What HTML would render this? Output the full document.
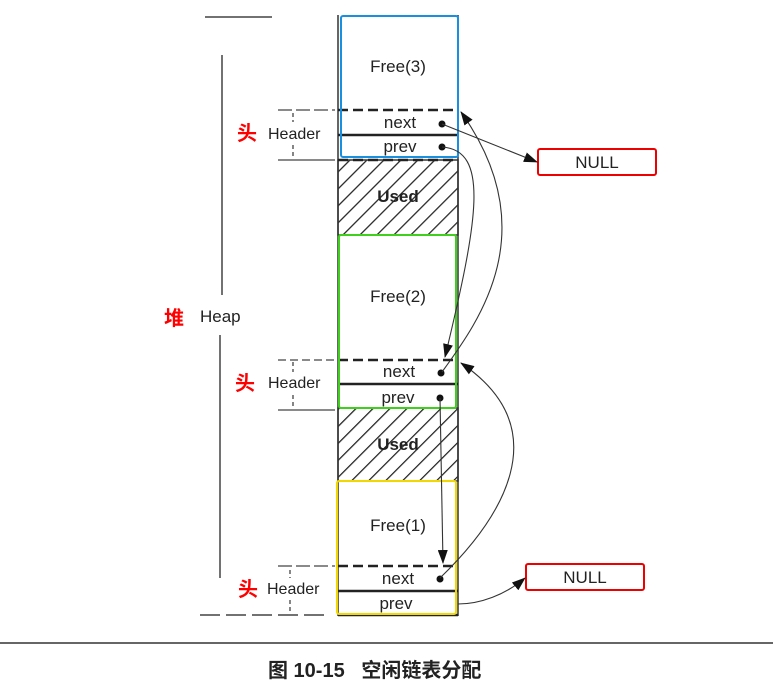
<!DOCTYPE html>
<html><head><meta charset="utf-8"><style>
html,body{margin:0;padding:0;background:#fff;}
svg{display:block;}
text{font-family:"Liberation Sans","Noto Sans CJK SC",sans-serif;fill:#222;}
</style></head><body>
<svg width="773" height="690" viewBox="0 0 773 690" xmlns="http://www.w3.org/2000/svg">
<defs>
<pattern id="h" patternUnits="userSpaceOnUse" width="12" height="12" patternTransform="rotate(45)">
<rect width="12" height="12" fill="#fff"/><line x1="0" y1="0" x2="0" y2="12" stroke="#222" stroke-width="2.5"/>
</pattern>
<marker id="a" markerWidth="14" markerHeight="10" refX="13" refY="5" orient="auto" markerUnits="userSpaceOnUse"><path d="M0,0 L14,5 L0,10 z" fill="#111"/></marker>
</defs>
<line x1="205" y1="17" x2="272" y2="17" stroke="#444" stroke-width="1.5"/>
<line x1="222" y1="55" x2="222" y2="295" stroke="#444" stroke-width="1.5"/>
<line x1="220" y1="335" x2="220" y2="578" stroke="#444" stroke-width="1.5"/>
<line x1="200" y1="615" x2="325" y2="615" stroke="#444" stroke-width="1.5" stroke-dasharray="20 6"/>
<text x="164" y="325" font-size="20" font-weight="bold" style="fill:#f00">堆</text>
<text x="200" y="322" font-size="17">Heap</text>
<g stroke="#444" stroke-width="1.3" fill="none">
<line x1="278" y1="110" x2="335" y2="110" stroke-dasharray="14 4"/><line x1="278" y1="160" x2="335" y2="160"/>
<line x1="293" y1="113" x2="293" y2="122" stroke-dasharray="4 3"/><line x1="293" y1="145" x2="293" y2="158" stroke-dasharray="4 3"/>
<line x1="278" y1="360" x2="335" y2="360" stroke-dasharray="8 4"/><line x1="278" y1="410" x2="335" y2="410"/>
<line x1="293" y1="362" x2="293" y2="372" stroke-dasharray="4 3"/><line x1="293" y1="395" x2="293" y2="408" stroke-dasharray="4 3"/>
<line x1="278" y1="566" x2="335" y2="566" stroke-dasharray="14 4"/>
<line x1="290" y1="570" x2="290" y2="578" stroke-dasharray="4 3"/><line x1="290" y1="600" x2="290" y2="612" stroke-dasharray="4 3"/>
</g>
<text x="237" y="140" font-size="20" font-weight="bold" style="fill:#f00">头</text>
<text x="268" y="139" font-size="16">Header</text>
<text x="235" y="390" font-size="20" font-weight="bold" style="fill:#f00">头</text>
<text x="268" y="388" font-size="16">Header</text>
<text x="238" y="596" font-size="20" font-weight="bold" style="fill:#f00">头</text>
<text x="267" y="594" font-size="16">Header</text>
<rect x="338" y="160" width="120" height="75" fill="url(#h)" stroke="#333" stroke-width="1.5"/>
<rect x="338" y="408" width="120" height="73" fill="url(#h)" stroke="#333" stroke-width="1.5"/>
<text x="398" y="202" font-size="17" text-anchor="middle" font-weight="bold">Used</text>
<text x="398" y="450" font-size="17" text-anchor="middle" font-weight="bold">Used</text>
<line x1="338" y1="15" x2="338" y2="616" stroke="#333" stroke-width="1.5"/>
<line x1="458" y1="15" x2="458" y2="616" stroke="#333" stroke-width="1.5"/>
<g stroke="#222" stroke-width="2.5" fill="none">
<line x1="338" y1="110" x2="458" y2="110" stroke-dasharray="10 5"/>
<line x1="338" y1="135" x2="458" y2="135"/>
<line x1="338" y1="160" x2="458" y2="160" stroke-dasharray="10 5"/>
<line x1="338" y1="360" x2="458" y2="360" stroke-dasharray="10 5"/>
<line x1="338" y1="384" x2="458" y2="384"/>
<line x1="338" y1="566" x2="458" y2="566" stroke-dasharray="10 5"/>
<line x1="338" y1="591" x2="458" y2="591"/>
<line x1="338" y1="615" x2="458" y2="615"/>
</g>
<rect x="341" y="16" width="117" height="141" fill="none" stroke="#1a8fe0" stroke-width="2" rx="2"/>
<rect x="339" y="235" width="117" height="173" fill="none" stroke="#3ed01a" stroke-width="2" rx="2"/>
<rect x="337" y="481" width="119" height="133" fill="none" stroke="#f2d800" stroke-width="2" rx="2"/>
<text x="398" y="72" font-size="17" text-anchor="middle">Free(3)</text>
<text x="398" y="302" font-size="17" text-anchor="middle">Free(2)</text>
<text x="398" y="531" font-size="17" text-anchor="middle">Free(1)</text>
<g font-size="17" text-anchor="middle">
<text x="400" y="128">next</text><text x="400" y="152">prev</text>
<text x="399" y="377">next</text><text x="398" y="403">prev</text>
<text x="398" y="584">next</text><text x="396" y="609">prev</text>
</g>
<g fill="#111"><circle cx="442" cy="124" r="3.5"/><circle cx="442" cy="147" r="3.5"/><circle cx="441" cy="373" r="3.5"/><circle cx="440" cy="398" r="3.5"/><circle cx="440" cy="579" r="3.5"/></g>
<rect x="538" y="149" width="118" height="26" fill="#fff" stroke="#e00" stroke-width="2" rx="2"/>
<text x="597" y="168" font-size="17" text-anchor="middle">NULL</text>
<rect x="526" y="564" width="118" height="26" fill="#fff" stroke="#e00" stroke-width="2" rx="2"/>
<text x="585" y="583" font-size="17" text-anchor="middle">NULL</text>
<g stroke="#333" stroke-width="1.1" fill="none" marker-end="url(#a)">
<path d="M442,124 L537,162"/>
<path d="M442,147 C490,150 478,220 445,357"/>
<path d="M442,372 C480,320 545,230 461,112"/>
<path d="M440,398 L443,563"/>
<path d="M440,578 C500,520 560,430 461,363"/>
<path d="M458,604 C480,604 505,595 525,578"/>
</g>
<line x1="0" y1="643" x2="773" y2="643" stroke="#333" stroke-width="1.5"/>
<text x="268" y="677" font-size="20" font-weight="bold">图 10-15&#160;&#160;&#160;空闲链表分配</text>
</svg>
</body></html>
